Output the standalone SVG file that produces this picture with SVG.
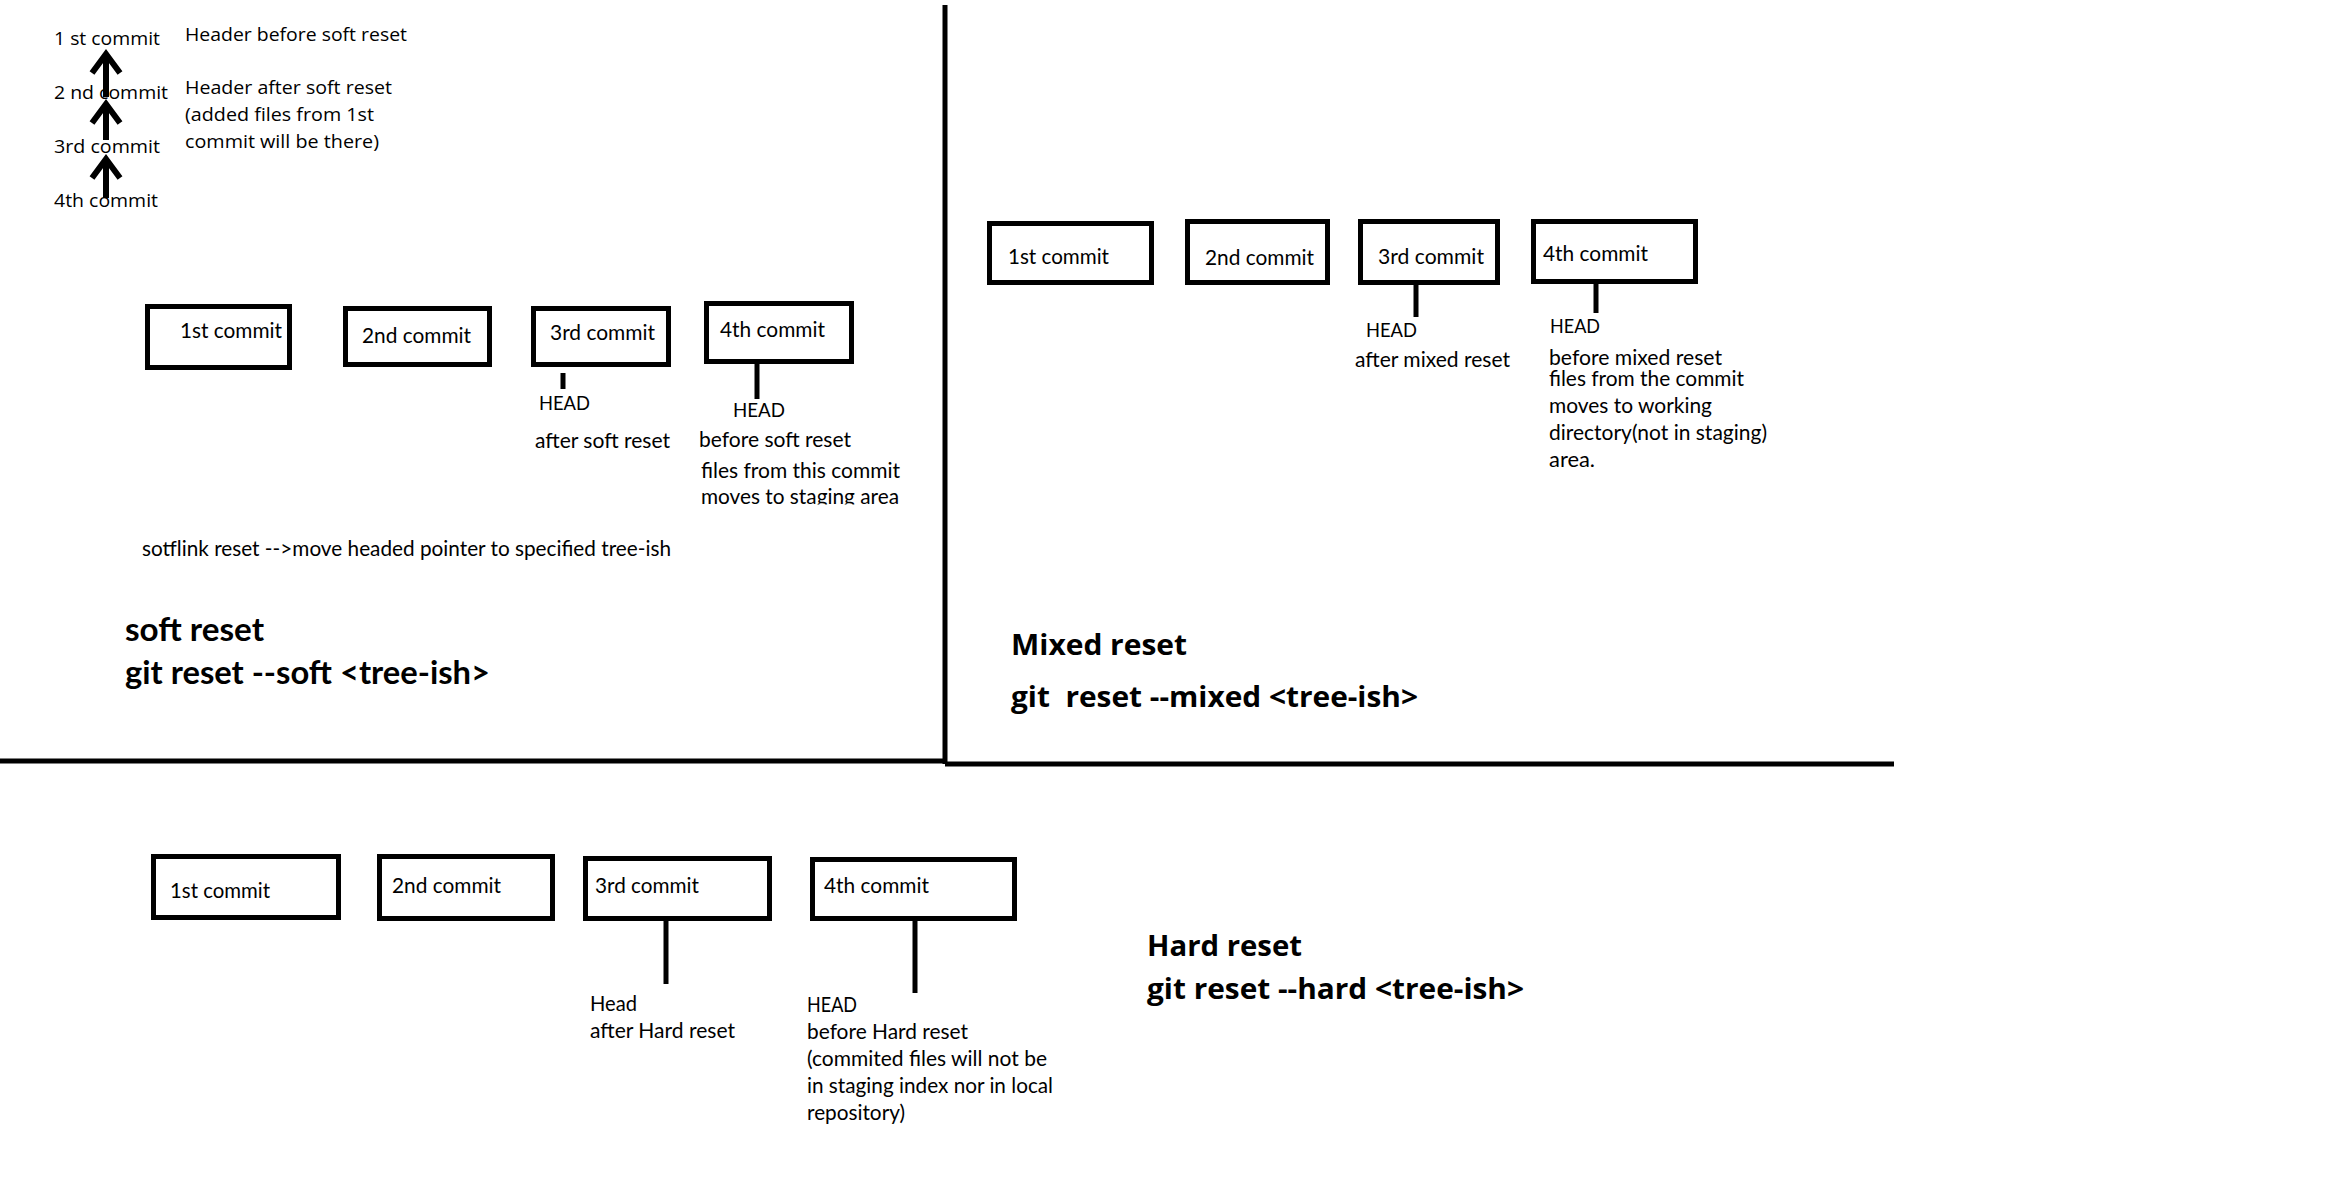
<svg xmlns="http://www.w3.org/2000/svg" width="2338" height="1190" viewBox="0 0 2338 1190">
<style>
.bg{fill:#fff}
.box{fill:none;stroke:#000;stroke-width:5}
.ln{stroke:#000;stroke-width:5;fill:none}
.div{stroke:#000;stroke-width:5;fill:none}
.arr{stroke:#000;stroke-width:6;fill:none}
.t1{font-family:"Open Sans","Noto Sans",sans-serif;font-size:19px;fill:#000}
.t2{font-family:Lato,"Open Sans",sans-serif;font-size:21px;fill:#000}
.t3{font-family:Lato,"Open Sans",sans-serif;font-size:20px;fill:#000}
.tb1{font-family:Lato,"Open Sans",sans-serif;font-size:33px;font-weight:bold;fill:#000}
.tb2{font-family:"Open Sans","Noto Sans",sans-serif;font-size:29px;font-weight:bold;fill:#000}
</style>
<defs>
<marker id="vhead" viewBox="-22 -16 24 32" refX="0" refY="0" markerWidth="24" markerHeight="32" markerUnits="userSpaceOnUse" orient="auto" overflow="visible">
<path d="M-19,-14 L0,0 L-19,14" stroke="#000" stroke-width="6" fill="none"/>
</marker>
<clipPath id="clipSoft"><rect x="690" y="480" width="230" height="24.5"/></clipPath>
</defs>
<rect class="bg" x="0" y="0" width="2338" height="1190"/>

<g id="dividers">
<line class="div" x1="945" y1="5" x2="945" y2="764"/>
<line class="div" x1="0" y1="761" x2="945" y2="761"/>
<line class="div" x1="945" y1="764" x2="1894" y2="764"/>
</g>

<g id="connectors">
<line class="arr" x1="106" y1="97" x2="106" y2="54" marker-end="url(#vhead)"/>
<line class="arr" x1="106" y1="140" x2="106" y2="104" marker-end="url(#vhead)"/>
<line class="arr" x1="106" y1="198" x2="106" y2="159" marker-end="url(#vhead)"/>
<line class="ln" x1="563" y1="373" x2="563" y2="389"/>
<line class="ln" x1="757" y1="364" x2="757" y2="399"/>
<line class="ln" x1="1416" y1="283" x2="1416" y2="317"/>
<line class="ln" x1="1596" y1="282" x2="1596" y2="313"/>
<line class="ln" x1="666" y1="921" x2="666" y2="984"/>
<line class="ln" x1="915" y1="921" x2="915" y2="993"/>
</g>

<g id="header-chain">
<text class="t1" x="54" y="45" textLength="106" lengthAdjust="spacingAndGlyphs">1 st commit</text>
<text class="t1" x="54" y="99" textLength="114" lengthAdjust="spacingAndGlyphs">2 nd commit</text>
<text class="t1" x="54" y="153" textLength="106" lengthAdjust="spacingAndGlyphs">3rd commit</text>
<text class="t1" x="54" y="207" textLength="104" lengthAdjust="spacingAndGlyphs">4th commit</text>
<text class="t1" x="185" y="41" textLength="222" lengthAdjust="spacingAndGlyphs">Header before soft reset</text>
<text class="t1" x="185" y="94" textLength="207" lengthAdjust="spacingAndGlyphs">Header after soft reset</text>
<text class="t1" x="185" y="121" textLength="189" lengthAdjust="spacingAndGlyphs">(added files from 1st</text>
<text class="t1" x="185" y="148" textLength="194" lengthAdjust="spacingAndGlyphs">commit will be there)</text>
</g>

<g id="soft-c1"><rect class="box" x="147.5" y="306.5" width="142" height="61"/><text class="t2" x="180" y="338" textLength="102" lengthAdjust="spacingAndGlyphs">1st commit</text></g>
<g id="soft-c2"><rect class="box" x="345.5" y="308.5" width="144" height="56"/><text class="t2" x="362" y="343" textLength="109" lengthAdjust="spacingAndGlyphs">2nd commit</text></g>
<g id="soft-c3"><rect class="box" x="533.5" y="308.5" width="135" height="56"/><text class="t2" x="550" y="340" textLength="105" lengthAdjust="spacingAndGlyphs">3rd commit</text></g>
<g id="soft-c4"><rect class="box" x="706.5" y="303.5" width="145" height="58"/><text class="t2" x="720" y="337" textLength="105" lengthAdjust="spacingAndGlyphs">4th commit</text></g>
<g id="soft-labels">
<text class="t3" x="539" y="410" textLength="51" lengthAdjust="spacingAndGlyphs">HEAD</text>
<text class="t2" x="535" y="448" textLength="135" lengthAdjust="spacingAndGlyphs">after soft reset</text>
<text class="t3" x="733" y="417" textLength="52" lengthAdjust="spacingAndGlyphs">HEAD</text>
<text class="t2" x="699" y="447" textLength="152" lengthAdjust="spacingAndGlyphs">before soft reset</text>
<text class="t2" x="701" y="478" textLength="199" lengthAdjust="spacingAndGlyphs">files from this commit</text>
<text class="t2" x="701" y="504" textLength="198" lengthAdjust="spacingAndGlyphs" clip-path="url(#clipSoft)">moves to staging area</text>
<text class="t2" x="142" y="556" textLength="529" lengthAdjust="spacingAndGlyphs">sotflink reset --&gt;move headed pointer to specified tree-ish</text>
</g>
<g id="soft-title">
<text class="tb1" x="125" y="641" textLength="139" lengthAdjust="spacingAndGlyphs">soft reset</text>
<text class="tb1" x="125" y="684" textLength="365" lengthAdjust="spacingAndGlyphs">git reset --soft &lt;tree-ish&gt;</text>
</g>

<g id="mixed-c1"><rect class="box" x="989.5" y="223.5" width="162" height="59"/><text class="t2" x="1008" y="264" textLength="101" lengthAdjust="spacingAndGlyphs">1st commit</text></g>
<g id="mixed-c2"><rect class="box" x="1187.5" y="221.5" width="140" height="61"/><text class="t2" x="1205" y="265" textLength="109" lengthAdjust="spacingAndGlyphs">2nd commit</text></g>
<g id="mixed-c3"><rect class="box" x="1360.5" y="221.5" width="137" height="61"/><text class="t2" x="1378" y="264" textLength="106" lengthAdjust="spacingAndGlyphs">3rd commit</text></g>
<g id="mixed-c4"><rect class="box" x="1533.5" y="221.5" width="162" height="60"/><text class="t2" x="1543" y="261" textLength="105" lengthAdjust="spacingAndGlyphs">4th commit</text></g>
<g id="mixed-labels">
<text class="t3" x="1366" y="337" textLength="51" lengthAdjust="spacingAndGlyphs">HEAD</text>
<text class="t2" x="1355" y="367" textLength="155" lengthAdjust="spacingAndGlyphs">after mixed reset</text>
<text class="t3" x="1550" y="333" textLength="50" lengthAdjust="spacingAndGlyphs">HEAD</text>
<text class="t2" x="1549" y="365" textLength="173" lengthAdjust="spacingAndGlyphs">before mixed reset</text>
<text class="t2" x="1549" y="386" textLength="195" lengthAdjust="spacingAndGlyphs">files from the commit</text>
<text class="t2" x="1549" y="413" textLength="163" lengthAdjust="spacingAndGlyphs">moves to working</text>
<text class="t2" x="1549" y="440" textLength="218" lengthAdjust="spacingAndGlyphs">directory(not in staging)</text>
<text class="t2" x="1549" y="467" textLength="46" lengthAdjust="spacingAndGlyphs">area.</text>
</g>
<g id="mixed-title">
<text class="tb2" x="1011" y="655" textLength="176" lengthAdjust="spacingAndGlyphs">Mixed reset</text>
<text class="tb2" x="1011" y="707" textLength="407" lengthAdjust="spacingAndGlyphs" xml:space="preserve">git  reset --mixed &lt;tree-ish&gt;</text>
</g>

<g id="hard-c1"><rect class="box" x="153.5" y="856.5" width="185" height="61"/><text class="t2" x="170" y="898" textLength="100" lengthAdjust="spacingAndGlyphs">1st commit</text></g>
<g id="hard-c2"><rect class="box" x="379.5" y="856.5" width="173" height="62"/><text class="t2" x="392" y="893" textLength="109" lengthAdjust="spacingAndGlyphs">2nd commit</text></g>
<g id="hard-c3"><rect class="box" x="585.5" y="858.5" width="184" height="60"/><text class="t2" x="595" y="893" textLength="104" lengthAdjust="spacingAndGlyphs">3rd commit</text></g>
<g id="hard-c4"><rect class="box" x="812.5" y="859.5" width="202" height="59"/><text class="t2" x="824" y="893" textLength="105" lengthAdjust="spacingAndGlyphs">4th commit</text></g>
<g id="hard-labels">
<text class="t2" x="590" y="1011" textLength="47" lengthAdjust="spacingAndGlyphs">Head</text>
<text class="t2" x="590" y="1038" textLength="145" lengthAdjust="spacingAndGlyphs">after Hard reset</text>
<text class="t2" x="807" y="1012" textLength="50" lengthAdjust="spacingAndGlyphs">HEAD</text>
<text class="t2" x="807" y="1039" textLength="161" lengthAdjust="spacingAndGlyphs">before Hard reset</text>
<text class="t2" x="807" y="1066" textLength="240" lengthAdjust="spacingAndGlyphs">(commited files will not be</text>
<text class="t2" x="807" y="1093" textLength="246" lengthAdjust="spacingAndGlyphs">in staging index nor in local</text>
<text class="t2" x="807" y="1120" textLength="98" lengthAdjust="spacingAndGlyphs">repository)</text>
</g>
<g id="hard-title">
<text class="tb2" x="1147" y="956" textLength="155" lengthAdjust="spacingAndGlyphs">Hard reset</text>
<text class="tb2" x="1147" y="999" textLength="377" lengthAdjust="spacingAndGlyphs">git reset --hard &lt;tree-ish&gt;</text>
</g>
</svg>
